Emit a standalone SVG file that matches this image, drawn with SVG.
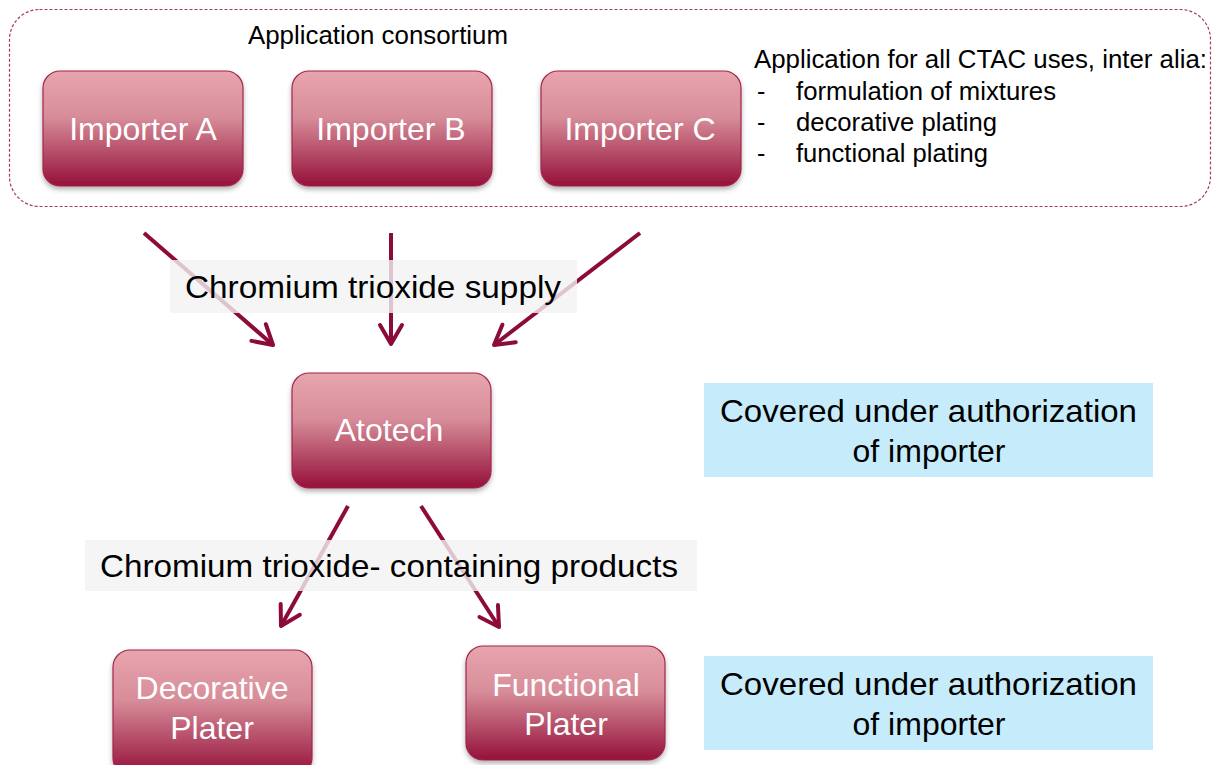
<svg xmlns="http://www.w3.org/2000/svg" width="1214" height="765" viewBox="0 0 1214 765">
<defs>
<linearGradient id="g" x1="0" y1="0" x2="0" y2="1">
<stop offset="0" stop-color="#e8a5ae"/>
<stop offset="0.4" stop-color="#d78d99"/>
<stop offset="1" stop-color="#95103a"/>
</linearGradient>
<filter id="sh" x="-10%" y="-10%" width="120%" height="130%">
<feDropShadow dx="0" dy="3" stdDeviation="2.5" flood-color="#000" flood-opacity="0.3"/>
</filter>
<marker id="ah" markerUnits="userSpaceOnUse" viewBox="-22 -14 26 28" refX="0" refY="0" markerWidth="26" markerHeight="28" orient="auto">
<path d="M-19,-11 L0,0 L-19,11" fill="none" stroke="#8c0b3b" stroke-width="4" stroke-linecap="round" stroke-linejoin="round"/>
</marker>
</defs>
<style>
.node{fill:url(#g);stroke:#a3234d;stroke-width:1.2;filter:url(#sh)}
.nt{font-family:"Liberation Sans",Arial,sans-serif;font-size:32px;fill:#fff;text-anchor:middle}
.t{font-family:"Liberation Sans",Arial,sans-serif;fill:#000}
.conn{stroke:#8c0b3b;stroke-width:4;fill:none;marker-end:url(#ah)}
.lbl{fill:#f2f2f2;fill-opacity:0.8}
.blue{fill:#c6ecfb}
</style>
<rect width="1214" height="765" fill="#fff"/>
<g id="consortium">
<rect x="9.5" y="9.5" width="1201" height="197" rx="30" fill="none" stroke="#a8385f" stroke-width="1.2" stroke-dasharray="3,2"/>
<text class="t" x="248" y="44" font-size="25" textLength="260" lengthAdjust="spacingAndGlyphs">Application consortium</text>
<text class="t" x="754" y="68" font-size="25" textLength="453" lengthAdjust="spacingAndGlyphs">Application for all  CTAC uses, inter alia:</text>
<text class="t" x="757" y="100" font-size="25">-</text>
<text class="t" x="796" y="100" font-size="25" textLength="260" lengthAdjust="spacingAndGlyphs">formulation of mixtures</text>
<text class="t" x="757" y="131" font-size="25">-</text>
<text class="t" x="796" y="131" font-size="25" textLength="201" lengthAdjust="spacingAndGlyphs">decorative plating</text>
<text class="t" x="757" y="162" font-size="25">-</text>
<text class="t" x="796" y="162" font-size="25" textLength="192" lengthAdjust="spacingAndGlyphs">functional plating</text>
</g>
<g id="importerA"><rect class="node" x="43" y="71" width="200" height="115" rx="17"/><text class="nt" x="143" y="140">Importer A</text></g>
<g id="importerB"><rect class="node" x="292" y="71" width="200" height="115" rx="17"/><text class="nt" x="391" y="140">Importer B</text></g>
<g id="importerC"><rect class="node" x="541" y="71" width="200" height="115" rx="17"/><text class="nt" x="640" y="140">Importer C</text></g>
<g id="atotech"><rect class="node" x="292" y="373" width="199" height="115" rx="17"/><text class="nt" x="389" y="441">Atotech</text></g>
<g id="decorative"><rect class="node" x="113" y="650" width="199" height="125" rx="17"/><text class="nt" x="212" y="699">Decorative</text><text class="nt" x="212" y="739">Plater</text></g>
<g id="functional"><rect class="node" x="466" y="646" width="199" height="114" rx="17"/><text class="nt" x="566" y="696">Functional</text><text class="nt" x="566" y="735">Plater</text></g>
<g id="connectors">
<line class="conn" x1="144" y1="233" x2="273" y2="345"/>
<line class="conn" x1="391" y1="233" x2="391" y2="344"/>
<line class="conn" x1="640" y1="233" x2="494" y2="345"/>
<line class="conn" x1="348" y1="506" x2="281" y2="626"/>
<line class="conn" x1="421" y1="506" x2="499" y2="627"/>
</g>
<g id="label-supply">
<rect class="lbl" x="170" y="260" width="407" height="53"/>
<text class="t" x="185" y="298" font-size="32" textLength="376" lengthAdjust="spacingAndGlyphs">Chromium trioxide  supply</text>
</g>
<g id="label-products">
<rect class="lbl" x="85" y="540" width="612" height="51"/>
<text class="t" x="100" y="577" font-size="32" textLength="578" lengthAdjust="spacingAndGlyphs">Chromium trioxide-  containing products</text>
</g>
<g id="covered1">
<rect class="blue" x="704" y="383" width="449" height="94"/>
<text class="t" x="720" y="422" font-size="32" textLength="417" lengthAdjust="spacingAndGlyphs">Covered  under authorization</text>
<text class="t" x="929" y="462" font-size="32" text-anchor="middle">of importer</text>
</g>
<g id="covered2">
<rect class="blue" x="704" y="656" width="449" height="94"/>
<text class="t" x="720" y="695" font-size="32" textLength="417" lengthAdjust="spacingAndGlyphs">Covered  under authorization</text>
<text class="t" x="929" y="735" font-size="32" text-anchor="middle">of importer</text>
</g>
</svg>
